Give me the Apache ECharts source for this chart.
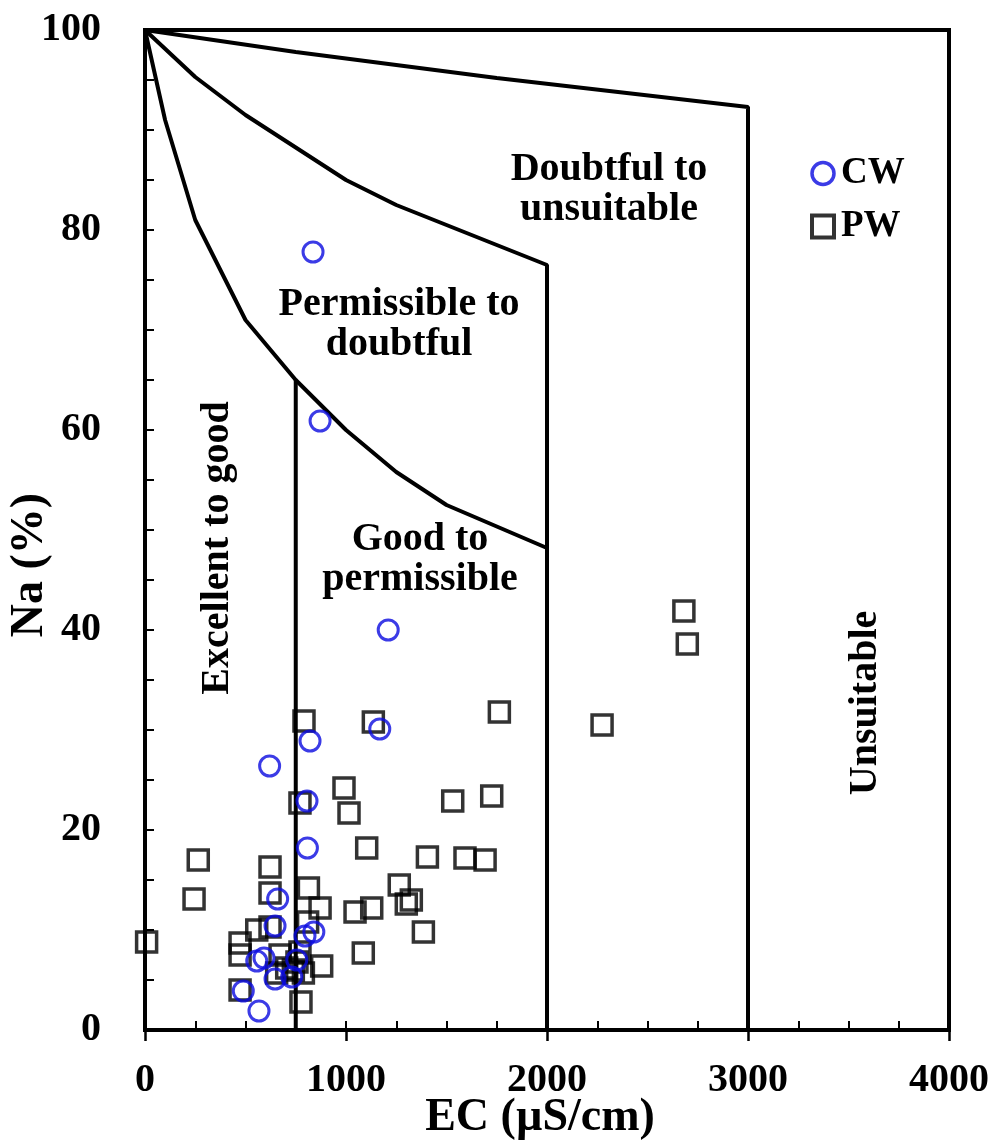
<!DOCTYPE html>
<html>
<head>
<meta charset="utf-8">
<script src="https://cdn.jsdelivr.net/npm/echarts@6/dist/echarts.min.js"></script>
<style>html,body{margin:0;padding:0;background:#fff;}#c{width:993px;height:1142px;}</style>
</head>
<body>
<div id="c"></div>
<script>
// ---- data ----
const ecTickLabels = [0, 1000, 2000, 3000, 4000];
const naTickLabels = [0, 20, 40, 60, 80, 100];
const xTitle = 'EC (µS/cm)';
const yTitle = 'Na (%)';

// CW samples [EC, Na%]
const cwPoints = [
  [836,77.8],[871,60.9],[1210,40.0],[1168,30.1],[821,28.9],[620,26.4],[806,22.9],
  [808,18.2],[660,13.1],[647,10.4],[840,9.8],[796,9.4],[556,6.9],[592,7.2],
  [647,5.1],[730,5.3],[755,7.0],[489,3.9],[567,1.9]
];
// PW samples [EC, Na%]
const pwPoints = [
  [8,8.8],[265,17.0],[244,13.1],[622,16.3],[622,13.7],[813,14.2],[871,12.2],[1265,14.5],
  [1045,11.8],[1128,12.2],[1300,12.6],[1325,13.0],[809,10.8],[556,10.0],[622,10.3],
  [473,8.7],[473,7.5],[672,7.5],[771,7.8],[705,6.2],[738,6.0],[788,5.7],[879,6.4],
  [1086,7.7],[473,4.0],[776,2.8],[791,30.9],[1136,30.8],[1763,31.8],[771,22.7],
  [990,24.2],[1015,21.7],[1531,22.9],[1725,23.4],[1103,18.2],[1405,17.3],[1592,17.2],
  [1692,17.0],[1385,9.8],[2681,41.9],[2698,38.6],[2274,30.5],[655,5.7],[756,6.8]
];
// Wilcox boundary lines [EC, Na%]
const boundaryExcellent = [[0,100],[100,91],[250,81],[500,71],[750,65],[1000,60],[1250,55.8],[1500,52.5],[2000,48.2]];
const boundary750 = [[750,65],[750,0]];
const boundaryPermissible = [[0,100],[250,95.3],[500,91.5],[1000,85],[1250,82.5],[2000,76.5],[2000,0]];
const boundaryDoubtful = [[0,100],[750,97.8],[1750,95.2],[3000,92.3],[3000,0]];

const zoneLabels = [
  {text:'Doubtful to\nunsuitable', x:609, y:190, rot:0, size:40},
  {text:'Permissible to\ndoubtful', x:399, y:325, rot:0, size:40},
  {text:'Good to\npermissible', x:420, y:560, rot:0, size:40},
  {text:'Excellent to good', x:218, y:548, rot:Math.PI/2, size:40},
  {text:'Unsuitable', x:866, y:703, rot:Math.PI/2, size:40},
  {text:yTitle, x:30, y:565, rot:Math.PI/2, size:46},
  {text:xTitle, x:540, y:1118, rot:0, size:46}
];

// ---- chart ----
const FONT = '"Liberation Serif", "Times New Roman", serif';
const BLUE = '#0a0ae0';
const chart = echarts.init(document.getElementById('c'), null, {renderer:'canvas'});
const lineStyle = {color:'#000', width:4};
function boundary(data){
  return {type:'line', data:data, symbol:'none', silent:true, lineStyle:lineStyle, z:2, xAxisIndex:0, yAxisIndex:0};
}
chart.setOption({
  animation:false,
  backgroundColor:'#fff',
  grid:{left:145, right:44, top:30, bottom:112, containLabel:false, outerBoundsMode:'none',
    show:true, borderColor:'#000', borderWidth:4, backgroundColor:'transparent'},
  legend:{
    orient:'vertical', left:805, top:150, itemWidth:22, itemHeight:22, itemGap:16,
    textStyle:{fontFamily:FONT, fontWeight:'bold', fontSize:37, color:'#000', padding:[0,0,0,2]},
    data:[
      {name:'CW', icon:'circle', itemStyle:{color:'rgba(0,0,0,0)', borderColor:BLUE, borderWidth:3.5}},
      {name:'PW', icon:'rect', itemStyle:{color:'rgba(0,0,0,0)', borderColor:'#000', borderWidth:4}}
    ]
  },
  xAxis:[{
    type:'value', min:0, max:4000, interval:250,
    axisLine:{lineStyle:{color:'#000', width:4}},
    axisTick:{inside:true, length:9, lineStyle:{color:'#000', width:2}},
    axisLabel:{margin:31, fontFamily:FONT, fontWeight:'bold', fontSize:40, color:'#000',
      formatter:function(v){return ecTickLabels.indexOf(v) >= 0 ? String(v) : '';}},
    splitLine:{show:false}
  },{
    type:'value', min:0, max:4000, interval:1000, position:'bottom', offset:0,
    axisLine:{show:false},
    axisTick:{inside:false, length:11, lineStyle:{color:'#000', width:2.5}},
    axisLabel:{show:false}, splitLine:{show:false}
  }],
  yAxis:{
    type:'value', min:0, max:100, interval:5,
    axisLine:{lineStyle:{color:'#000', width:4}},
    axisTick:{inside:true, length:9, lineStyle:{color:'#000', width:2}},
    axisLabel:{margin:44, fontFamily:FONT, fontWeight:'bold', fontSize:40, color:'#000',
      formatter:function(v){return naTickLabels.indexOf(v) >= 0 ? String(v) : '';}},
    splitLine:{show:false}
  },
  graphic: zoneLabels.map(function(l){
    return {type:'text', x:l.x, y:l.y, rotation:l.rot, z:10,
      style:{text:l.text, fontFamily:FONT, fontWeight:'bold', fontSize:l.size, lineHeight:40,
        fill:'#000', align:'center', verticalAlign:'middle'}};
  }),
  series:[
    boundary(boundaryExcellent), boundary(boundary750), boundary(boundaryPermissible), boundary(boundaryDoubtful),
    {name:'PW', type:'scatter', data:pwPoints, symbol:'rect', symbolSize:20, z:3,
      itemStyle:{color:'rgba(0,0,0,0)', borderColor:'#000', borderWidth:3.5}},
    {name:'CW', type:'scatter', data:cwPoints, symbol:'circle', symbolSize:20, z:4,
      itemStyle:{color:'rgba(0,0,0,0)', borderColor:BLUE, borderWidth:3}}
  ]
});
</script>
</body>
</html>
